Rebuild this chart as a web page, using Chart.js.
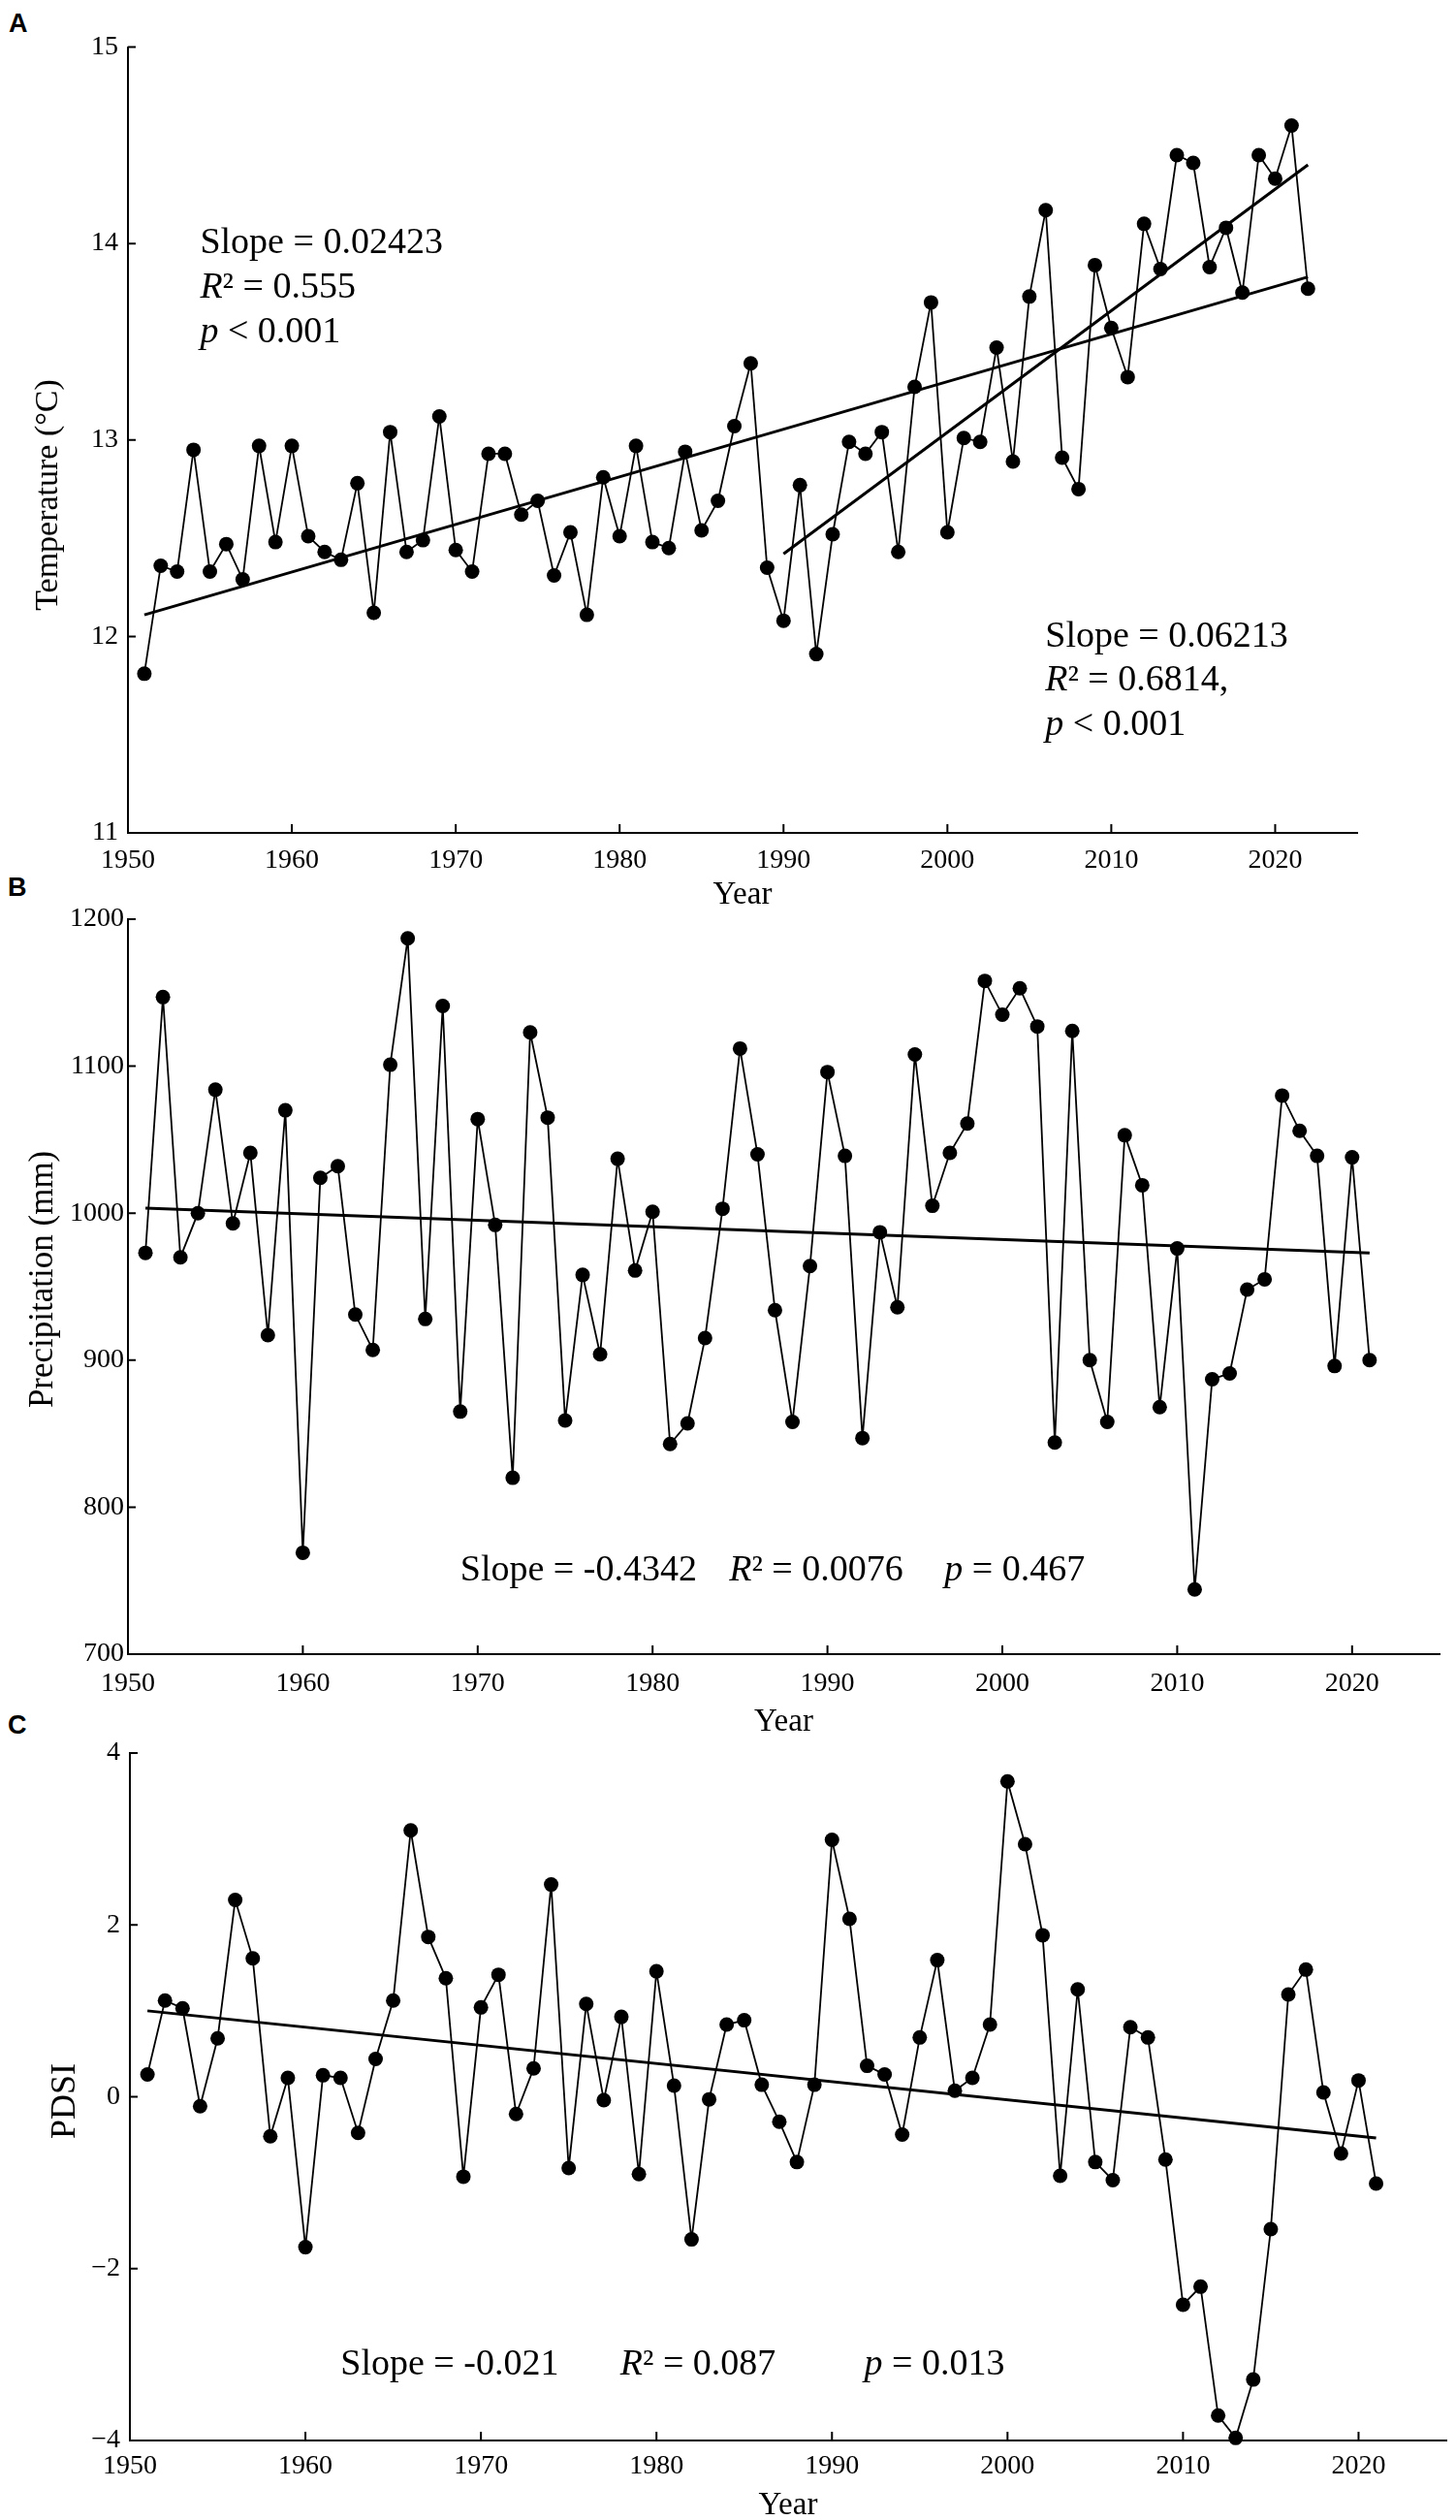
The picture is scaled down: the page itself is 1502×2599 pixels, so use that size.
<!DOCTYPE html>
<html>
<head>
<meta charset="utf-8">
<script src="https://cdn.jsdelivr.net/npm/chart.js@4.4.0/dist/chart.umd.min.js"></script>
<style>
  html, body { margin: 0; padding: 0; background: #fff; overflow: hidden; }
  .panel { position: absolute; left: 0; width: 1502px; }
  .tag { position: absolute; font: bold 27px "Liberation Sans", Arial, sans-serif; line-height: 27px; color: #000; }
</style>
</head>
<body>
<div class="tag" style="left:9px;top:11px">A</div>
<div class="tag" style="left:8px;top:902px">B</div>
<div class="tag" style="left:8px;top:1766px">C</div>
<div class="panel" style="top:0;height:960px"><canvas id="chartA"></canvas></div>
<div class="panel" style="top:900px;height:900px"><canvas id="chartB"></canvas></div>
<div class="panel" style="top:1760px;height:839px"><canvas id="chartC"></canvas></div>
<script>
// Years on the x axis
const yearsA = [1951, 1952, 1953, 1954, 1955, 1956, 1957, 1958, 1959, 1960,
  1961, 1962, 1963, 1964, 1965, 1966, 1967, 1968, 1969, 1970,
  1971, 1972, 1973, 1974, 1975, 1976, 1977, 1978, 1979, 1980,
  1981, 1982, 1983, 1984, 1985, 1986, 1987, 1988, 1989, 1990,
  1991, 1992, 1993, 1994, 1995, 1996, 1997, 1998, 1999, 2000,
  2001, 2002, 2003, 2004, 2005, 2006, 2007, 2008, 2009, 2010,
  2011, 2012, 2013, 2014, 2015, 2016, 2017, 2018, 2019, 2020,
  2021, 2022];
const yearsBC = yearsA.slice(0, 71); // 1951 - 2021

// A: annual mean temperature (°C)
const temperature = [11.81, 12.36, 12.33, 12.95, 12.33, 12.47, 12.29, 12.97, 12.48, 12.97,
  12.51, 12.43, 12.39, 12.78, 12.12, 13.04, 12.43, 12.49, 13.12, 12.44,
  12.33, 12.93, 12.93, 12.62, 12.69, 12.31, 12.53, 12.11, 12.81, 12.51,
  12.97, 12.48, 12.45, 12.94, 12.54, 12.69, 13.07, 13.39, 12.35, 12.08,
  12.77, 11.91, 12.52, 12.99, 12.93, 13.04, 12.43, 13.27, 13.70, 12.53,
  13.01, 12.99, 13.47, 12.89, 13.73, 14.17, 12.91, 12.75, 13.89, 13.57,
  13.32, 14.10, 13.87, 14.45, 14.41, 13.88, 14.08, 13.75, 14.45, 14.33,
  14.60, 13.77];

// B: annual precipitation (mm)
const precipitation = [973, 1147, 970, 1000, 1084, 993, 1041, 917, 1070, 769,
  1024, 1032, 931, 907, 1101, 1187, 928, 1141, 865, 1064,
  992, 820, 1123, 1065, 859, 958, 904, 1037, 961, 1001,
  843, 857, 915, 1003, 1112, 1040, 934, 858, 964, 1096,
  1039, 847, 987, 936, 1108, 1005, 1041, 1061, 1158, 1135,
  1153, 1127, 844, 1124, 900, 858, 1053, 1019, 868, 976,
  744, 887, 891, 948, 955, 1080, 1056, 1039, 896, 1038,
  900];

// C: PDSI
const pdsi = [0.26, 1.12, 1.03, -0.11, 0.68, 2.29, 1.61, -0.46, 0.22, -1.75,
  0.25, 0.22, -0.42, 0.44, 1.12, 3.10, 1.86, 1.38, -0.93, 1.04,
  1.42, -0.20, 0.33, 2.47, -0.83, 1.08, -0.04, 0.93, -0.90, 1.46,
  0.13, -1.66, -0.03, 0.84, 0.89, 0.14, -0.29, -0.76, 0.14, 2.99,
  2.07, 0.36, 0.26, -0.44, 0.69, 1.59, 0.07, 0.22, 0.84, 3.67,
  2.94, 1.88, -0.92, 1.25, -0.76, -0.97, 0.81, 0.69, -0.73, -2.42,
  -2.21, -3.71, -3.97, -3.29, -1.54, 1.19, 1.48, 0.05, -0.66, 0.19,
  -1.01];

// Fitted trend lines: [start year, value], [end year, value]
const trendA1 = [[1951, 12.11], [2022, 13.83]];
const trendA2 = [[1990, 12.42], [2022, 14.40]];
const trendB = [[1951, 1003.4], [2021, 973.0]];
const trendC = [[1951, 1.00], [2021, -0.48]];

// Tick labels
const xTicks = [1950, 1960, 1970, 1980, 1990, 2000, 2010, 2020];
const yTicksA = [11, 12, 13, 14, 15];
const yTicksB = [700, 800, 900, 1000, 1100, 1200];
const yTicksC = [-4, -2, 0, 2, 4];

// Statistics text (*...* is set in italics)
const statsA1 = ['Slope = 0.02423', '*R*² = 0.555', '*p* < 0.001'];
const statsA2 = ['Slope = 0.06213', '*R*² = 0.6814,', '*p* < 0.001'];
const statsB = ['Slope = -0.4342', '*R*² = 0.0076', '*p* = 0.467'];
const statsC = ['Slope = -0.021', '*R*² = 0.087', '*p* = 0.013'];

const SERIF = '"Liberation Serif", "Times New Roman", serif';

function toXY(xs, ys) {
  return xs.map((x, i) => ({ x: x, y: ys[i] }));
}

function drawRich(ctx, text, x, y, size) {
  const parts = text.split('*');
  let cx = x;
  parts.forEach((part, i) => {
    if (!part) return;
    ctx.font = (i % 2 ? 'italic ' : '') + size + 'px ' + SERIF;
    ctx.fillText(part, cx, y);
    cx += ctx.measureText(part).width;
  });
}

// Inward tick marks, y axis title and the statistics text
const extras = {
  id: 'extras',
  afterDraw(chart, args, opts) {
    const ctx = chart.ctx;
    const xs = chart.scales.x;
    const ys = chart.scales.y;
    ctx.save();
    ctx.strokeStyle = '#000';
    ctx.lineWidth = 2;
    ctx.beginPath();
    xs.ticks.forEach(t => {
      const px = xs.getPixelForValue(t.value);
      ctx.moveTo(px, xs.top);
      ctx.lineTo(px, xs.top - 9);
    });
    ys.ticks.forEach(t => {
      const py = ys.getPixelForValue(t.value);
      ctx.moveTo(ys.right, py);
      ctx.lineTo(ys.right + 8, py);
    });
    ctx.stroke();

    // y axis title, rotated
    ctx.fillStyle = '#000';
    ctx.textBaseline = 'middle';
    ctx.textAlign = 'center';
    ctx.font = opts.yTitle.size + 'px ' + SERIF;
    ctx.translate(opts.yTitle.px, ys.getPixelForValue(opts.yTitle.at));
    ctx.rotate(-Math.PI / 2);
    ctx.fillText(opts.yTitle.text, 0, 0);
    ctx.restore();

    // regression statistics
    ctx.save();
    ctx.fillStyle = '#000';
    ctx.textBaseline = 'alphabetic';
    ctx.textAlign = 'left';
    opts.notes.forEach(n => {
      const x0 = xs.getPixelForValue(n.x);
      const y0 = ys.getPixelForValue(n.y);
      n.lines.forEach((line, i) => {
        const lx = n.dx ? x0 + n.dx[i] : x0;
        const ly = n.dx ? y0 : y0 + i * n.step;
        drawRich(ctx, line, lx, ly, n.size);
      });
    });
    ctx.restore();
  }
};

function makeChart(id, p) {
  const datasets = [{
    data: toXY(p.years, p.values),
    borderColor: '#000',
    borderWidth: 1.8,
    pointRadius: 7.5,
    pointHoverRadius: 7.5,
    pointBackgroundColor: '#000',
    pointBorderWidth: 0,
    clip: false
  }];
  p.trends.forEach(tr => {
    datasets.push({
      data: tr.map(d => ({ x: d[0], y: d[1] })),
      borderColor: '#000',
      borderWidth: 3,
      pointRadius: 0,
      clip: false
    });
  });

  return new Chart(document.getElementById(id), {
    type: 'line',
    data: { datasets: datasets },
    plugins: [extras],
    options: {
      responsive: true,
      maintainAspectRatio: false,
      animation: false,
      layout: { padding: p.padding },
      plugins: {
        legend: { display: false },
        tooltip: { enabled: false },
        extras: { yTitle: p.yTitle, notes: p.notes }
      },
      scales: {
        x: {
          type: 'linear',
          min: 1950,
          max: 2025,
          afterBuildTicks: s => { s.ticks = xTicks.map(v => ({ value: v })); },
          afterFit: s => { s.height = p.xHeight; s.paddingLeft = 0; s.paddingRight = 0; },
          grid: { display: false, drawTicks: false },
          border: { display: true, color: '#000', width: 2 },
          ticks: {
            color: '#000',
            padding: p.xTickPad,
            maxRotation: 0,
            font: { family: SERIF, size: 28 },
            callback: v => String(v)
          },
          title: {
            display: true,
            text: 'Year',
            color: '#000',
            font: { family: SERIF, size: 33, lineHeight: 0.9 },
            padding: { top: 0, bottom: p.yearPad }
          }
        },
        y: {
          type: 'linear',
          min: p.yTicks[0],
          max: p.yTicks[p.yTicks.length - 1],
          afterBuildTicks: s => { s.ticks = p.yTicks.map(v => ({ value: v })); },
          afterFit: s => { s.width = p.yWidth; s.paddingTop = 0; s.paddingBottom = 0; },
          grid: { display: false, drawTicks: false },
          border: { display: true, color: '#000', width: 2 },
          ticks: {
            color: '#000',
            padding: p.yTickPad,
            font: { family: SERIF, size: 28 },
            callback: v => (v < 0 ? '\u2212' + Math.abs(v) : String(v))
          }
        }
      }
    }
  });
}

makeChart('chartA', {
  years: yearsA,
  values: temperature,
  trends: [trendA1, trendA2],
  yTicks: yTicksA,
  padding: { top: 48.5, right: 102, bottom: 0, left: 0 },
  xHeight: 101,
  yWidth: 132,
  xTickPad: 12,
  yTickPad: 10,
  yearPad: 22,
  yTitle: { text: 'Temperature (°C)', px: 50, at: 12.72, size: 34 },
  notes: [
    { x: 1954.4, y: 13.95, lines: statsA1, step: 46, size: 38 },
    { x: 2005.97, y: 11.95, lines: statsA2, step: 45.5, size: 38 }
  ]
});

makeChart('chartB', {
  years: yearsBC,
  values: precipitation,
  trends: [trendB],
  yTicks: yTicksB,
  padding: { top: 48, right: 17, bottom: 0, left: 0 },
  xHeight: 94,
  yWidth: 132,
  xTickPad: 14,
  yTickPad: 4,
  yearPad: 9,
  yTitle: { text: 'Precipitation (mm)', px: 45, at: 955, size: 35 },
  notes: [
    { x: 1969.0, y: 750, lines: statsB, dx: [0, 277.5, 499.5], size: 38 }
  ]
});

makeChart('chartC', {
  years: yearsBC,
  values: pdsi,
  trends: [trendC],
  yTicks: yTicksC,
  padding: { top: 48, right: 10, bottom: 0, left: 0 },
  xHeight: 82,
  yWidth: 134,
  xTickPad: 10,
  yTickPad: 10,
  yearPad: 0,
  yTitle: { text: 'PDSI', px: 68, at: -0.05, size: 36 },
  notes: [
    { x: 1962.0, y: -3.235, lines: statsC, dx: [0, 288.5, 540.3], size: 38 }
  ]
});
</script>
</body>
</html>
